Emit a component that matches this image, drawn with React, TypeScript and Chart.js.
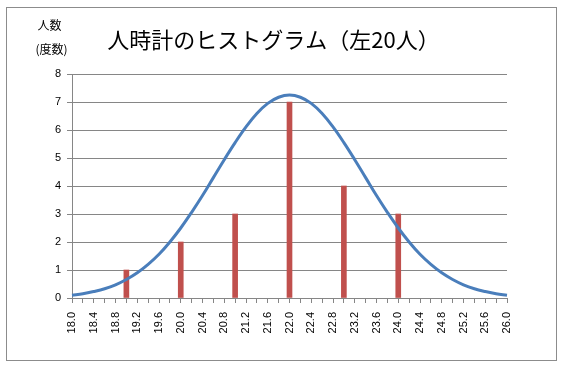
import { useEffect, useRef } from 'react';
import { Chart, registerables } from 'chart.js';

Chart.register(...registerables);

// x categories (class marks, step 0.2)
const categories = [
  '18.0', '18.2', '18.4', '18.6', '18.8', '19.0', '19.2', '19.4', '19.6', '19.8',
  '20.0', '20.2', '20.4', '20.6', '20.8', '21.0', '21.2', '21.4', '21.6', '21.8',
  '22.0', '22.2', '22.4', '22.6', '22.8', '23.0', '23.2', '23.4', '23.6', '23.8',
  '24.0', '24.2', '24.4', '24.6', '24.8', '25.0', '25.2', '25.4', '25.6', '25.8',
  '26.0',
];

// histogram bins and their frequencies (人数)
const binLabels = ['19.0', '20.0', '21.0', '22.0', '23.0', '24.0'];
const binCounts = [1, 2, 3, 7, 4, 3];

// normal curve, one value per category
const curveValues = [
  0.10, 0.15, 0.23, 0.33, 0.47, 0.66, 0.90, 1.20, 1.56, 2.00,
  2.50, 3.06, 3.66, 4.30, 4.94, 5.55, 6.11, 6.59, 6.95, 7.17,
  7.25, 7.17, 6.95, 6.59, 6.11, 5.55, 4.94, 4.30, 3.66, 3.06,
  2.50, 2.00, 1.56, 1.20, 0.90, 0.66, 0.47, 0.33, 0.23, 0.15,
  0.10,
];

const yTickValues = [0, 1, 2, 3, 4, 5, 6, 7, 8];

const titleText = '人時計のヒストグラム（左20人）';
const yTitleLines = ['人数', '(度数)'];

const barValues = categories.map((c) => {
  const k = binLabels.indexOf(c);
  return k >= 0 ? binCounts[k] : null;
});

const FONT = "'Liberation Sans', Arial, sans-serif";
const CJK = "'Noto Sans CJK JP', sans-serif";
const GRID = '#868686';

const decorPlugin = {
  id: 'decor',
  beforeDraw(chart: any) {
    const { ctx, width, height } = chart;
    ctx.save();
    ctx.fillStyle = '#ffffff';
    ctx.fillRect(0, 0, width, height);
    ctx.strokeStyle = '#8c8c8c';
    ctx.lineWidth = 1;
    ctx.strokeRect(6.5, 7.5, 550, 353);
    ctx.restore();
  },
  afterDraw(chart: any) {
    const { ctx } = chart;
    ctx.save();
    ctx.fillStyle = '#000000';
    ctx.textAlign = 'center';
    ctx.textBaseline = 'middle';
    ctx.font = `22px ${CJK}`;
    ctx.fillText(titleText, 273.5, 40);
    ctx.font = `12px ${CJK}`;
    ctx.fillText(yTitleLines[0], 49.5, 25);
    ctx.fillText(yTitleLines[1], 51.5, 49);
    ctx.restore();
  },
};

export default function App() {
  const ref = useRef<HTMLCanvasElement | null>(null);

  useEffect(() => {
    if (!ref.current) return;
    const chart = new Chart(ref.current, {
      type: 'bar',
      data: {
        labels: categories,
        datasets: [
          {
            type: 'line',
            data: curveValues,
            borderColor: '#4A7EBB',
            borderWidth: 3,
            pointRadius: 0,
            tension: 0.4,
            fill: false,
            order: 0,
          } as any,
          {
            type: 'bar',
            data: barValues,
            backgroundColor: '#C0504D',
            barThickness: 5,
            order: 1,
          } as any,
        ],
      },
      plugins: [decorPlugin],
      options: {
        animation: false,
        responsive: false,
        maintainAspectRatio: false,
        layout: { padding: { left: 6, top: 74, right: 54, bottom: 9 } },
        plugins: {
          legend: { display: false },
          title: { display: false },
          tooltip: { enabled: false },
        },
        scales: {
          x: {
            type: 'category',
            offset: false,
            afterFit: (s: any) => { s.height = 60; },
            grid: {
              display: true,
              drawOnChartArea: false,
              drawTicks: true,
              tickLength: 5,
              color: GRID,
              offset: false,
            },
            border: { display: true, color: GRID },
            ticks: {
              autoSkip: false,
              maxRotation: 90,
              minRotation: 90,
              padding: 9,
              color: '#000000',
              font: { family: FONT, size: 11 },
              callback: (_v: any, i: number) => (i % 2 === 0 ? categories[i] : ''),
            },
          },
          y: {
            min: 0,
            max: 8,
            afterFit: (s: any) => { s.width = 66; },
            afterBuildTicks: (s: any) => { s.ticks = yTickValues.map((v) => ({ value: v })); },
            grid: { color: GRID, tickLength: 5, drawTicks: true },
            border: { display: true, color: GRID },
            ticks: {
              padding: 6,
              color: '#000000',
              font: { family: FONT, size: 11 },
            },
          },
        },
      } as any,
    });
    return () => chart.destroy();
  }, []);

  return (
    <div style={{ position: 'absolute', left: 0, top: 0, width: 561, height: 367 }}>
      <canvas ref={ref} width={561} height={367} style={{ width: 561, height: 367 }} />
    </div>
  );
}
